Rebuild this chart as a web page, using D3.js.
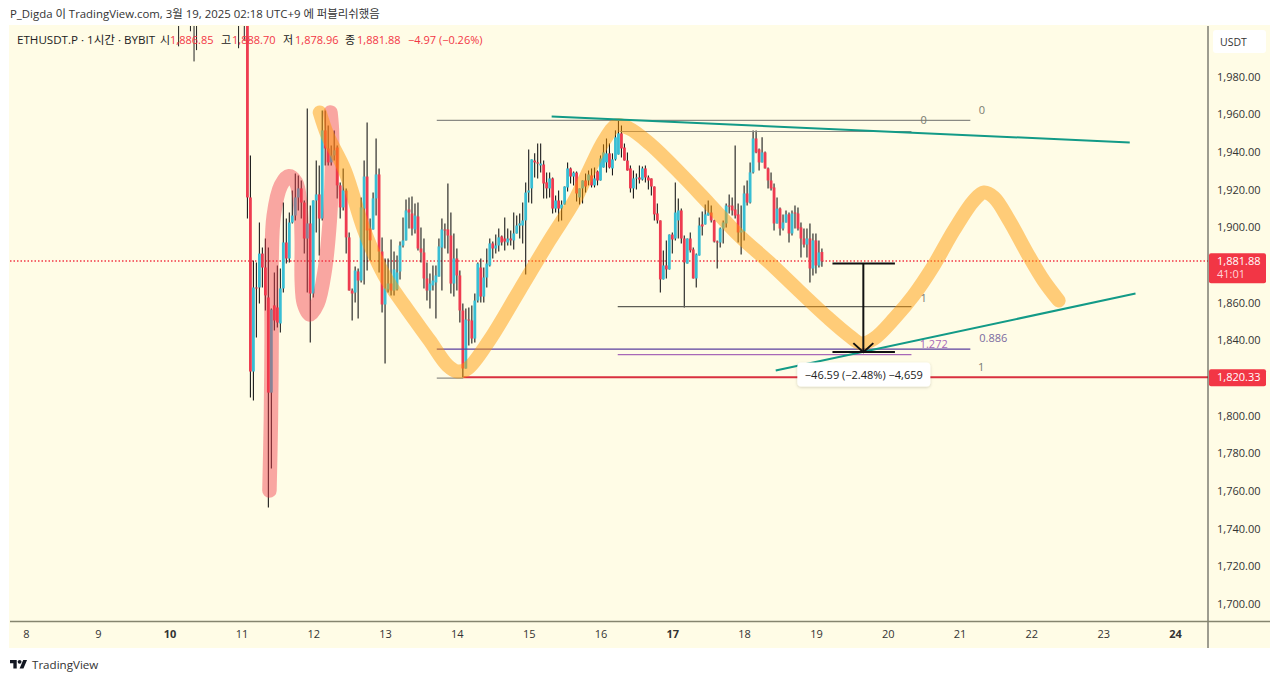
<!DOCTYPE html>
<html>
<head>
<meta charset="utf-8">
<script src="https://cdn.jsdelivr.net/npm/d3@7"></script>
<style>
  html, body { margin: 0; padding: 0; background: #fff; }
  svg { display: block; }
  text { font-family: "Open Sans", "Noto Sans CJK KR", sans-serif; }
</style>
</head>
<body>
<svg id="chart" width="1280" height="681"></svg>
<script>
// hourly ETHUSDT.P candles, first one is 11th 02:00
const firstDay = 11 + 2 / 24;
const opens = [
  2070,1915.8,1823.4,1868,1868,1886,1878.6,1862.7,1812.2,1858.5,
  1857.4,1848.9,1867.5,1891.9,1883.4,1902.5,1906.2,1915.8,1920.6,1913.1,
  1894,1902,1864.8,1914.2,1917.4,1904.6,1951.4,1941.8,1934.4,1938.1,
  1942.3,1922.2,1910.5,1919.5,1894.6,1866.4,1865.3,1876.5,1871.7,1909.9,
  1926.9,1899.3,1898.8,1915.3,1928,1887.1,1859,1867,1870.1,1866.4,
  1867,1876.5,1890.3,1893,1909.4,1907.3,1898.8,1905.7,1888.7,1886.6,
  1872.8,1866.4,1869.1,1870.7,1873.8,1889.2,1898.8,1898.8,1895.6,1870.1,
  1883.4,1874.4,1855.8,1825,1851,1850.5,1840.9,1861.1,1878.6,1863.2,
  1873.3,1879.7,1891.4,1888.7,1890.3,1895.1,1894,1891.9,1894,1893,
  1896.7,1900.9,1900.9,1903.6,1918.4,1920.6,1935.4,1934.4,1932.8,1933.3,
  1923.8,1920.6,1925.9,1909.9,1914.2,1909.9,1912,1921.1,1931.2,1926.9,
  1929,1915.8,1920.6,1924.8,1924.8,1927.5,1922.2,1929.6,1924.8,1931.7,
  1934.4,1939.2,1931.2,1936,1938.6,1949.8,1942.3,1935.4,1931.2,1920.6,
  1925.9,1926.4,1925.3,1931.2,1926.4,1925.9,1921.6,1907.3,1903.6,1872.3,
  1879.7,1877.6,1896.1,1894,1903.6,1908.9,1894,1880.7,1894,1888.2,
  1872.8,1885,1901.5,1901.5,1906.2,1907.8,1903.6,1892.4,1891.9,1899.3,
  1902,1911.5,1911.5,1909.4,1906.8,1897.2,1897.7,1917.9,1913.1,1929.1,
  1947.1,1941.3,1934.4,1939.7,1931.2,1924.8,1921.1,1902,1909.9,1899.3,
  1902.5,1906.8,1896.7,1907.8,1907.3,1899.9,1894,1890.8,1894,1878.1,
  1893,1879.7,1886.85
];
const highs = [
  2085,1938.1,1882.3,1881.3,1902.5,1889.2,1894,1889.2,1856.9,1876,
  1879.7,1878.1,1913.1,1904.6,1907.8,1919.5,1928.5,1927.5,1924.8,1914.2,
  1963,1911.5,1914.2,1935.4,1932.8,1962,1962,1954,1943.4,1951.4,
  1943.4,1923.8,1931.2,1920.6,1897.2,1867.5,1879.1,1878.1,1915.8,1935.4,
  1955.6,1904.6,1918.4,1947.1,1931.2,1894.6,1883.4,1883.4,1893.5,1887.1,
  1885,1892.4,1905.2,1914.7,1915.8,1916.3,1912.6,1913.1,1899.9,1894,
  1881.3,1875.4,1879.7,1879.7,1894,1904.6,1902,1923.2,1907.8,1896.7,
  1888.7,1877,1859.5,1856.9,1857.4,1858.5,1864.8,1881.3,1883.4,1878.6,
  1888.7,1894,1892.4,1896.1,1899.3,1895.6,1905.2,1899.3,1898.3,1907.8,
  1906.2,1907.3,1913.1,1923.8,1941.3,1936,1939.2,1944.5,1944.5,1935.4,
  1929,1929,1926.4,1916.9,1919.5,1914.2,1921.6,1934.4,1931.7,1929.6,
  1929.6,1920.6,1924.8,1928.5,1930.1,1931.2,1931.7,1930.1,1938.1,1944,
  1947.1,1944.5,1939.2,1951.4,1956.7,1954,1944.5,1939.7,1932.8,1930.1,
  1928.5,1932.8,1932.2,1932.8,1927.5,1925.9,1921.6,1912.6,1903.6,1887.7,
  1893,1896.1,1897.2,1923.8,1915.3,1909.9,1895.6,1894,1897.2,1889.2,
  1886,1905.2,1908.4,1912.1,1914.2,1911.5,1904,1892.9,1899.9,1903.6,
  1912.6,1917.4,1915.8,1943.4,1912.6,1911.5,1922.2,1924.8,1934.4,1951.4,
  1951.4,1941.8,1947.7,1940.2,1931.7,1929,1923.2,1915.8,1910.5,1906.8,
  1908.9,1907.8,1908.9,1911.5,1910.5,1902.5,1899.3,1899.3,1902,1896.7,
  1896.7,1893,1888.7
];
const lows = [
  1904.6,1809.6,1808,1841.4,1859.5,1868,1855.8,1751.2,1771.9,1845.2,
  1846.8,1844.1,1865.3,1880.7,1881.3,1902,1903.6,1908.9,1904.6,1886,
  1865.3,1838.8,1862.7,1897.2,1885,1903.6,1932.8,1932.8,1932.8,1935.4,
  1915.3,1904.6,1908.9,1886,1866.4,1850.5,1860,1851.5,1870.6,1869.6,
  1877,1882.3,1898.8,1906.2,1876,1854.7,1827.6,1865.3,1863.8,1863.8,
  1866.4,1872.3,1889.2,1893,1899.3,1895.6,1896.7,1887.7,1881.3,1867.5,
  1861.1,1856.9,1866.4,1851.5,1873.8,1866.4,1888.7,1886,1864.8,1863.2,
  1866.4,1849.4,1820.2,1825,1837.2,1838.3,1838.8,1860,1860,1860,
  1868,1879.1,1883.4,1886,1887.1,1890.3,1887.7,1890.3,1890.3,1888.2,
  1896.7,1894,1891.4,1874.9,1913.1,1912.6,1926.4,1925.9,1929,1915.3,
  1915.3,1915.8,1907.3,1907.8,1903,1903.6,1912,1919,1923.2,1922.2,
  1913.7,1912,1912.6,1918.4,1922.2,1921.1,1921.1,1922.2,1924.8,1931.7,
  1929,1931.2,1927.5,1935.4,1938.6,1937,1935.4,1930.1,1918.4,1915.3,
  1920,1923.2,1924.8,1923.8,1920,1916.9,1903.6,1902,1865.3,1872.3,
  1872.8,1877.6,1886,1893,1894,1891.4,1857.4,1880.7,1886.6,1872.8,
  1868,1885,1895.6,1901.5,1906.2,1902.5,1891.9,1878.1,1889.2,1891.4,
  1899.9,1907.3,1906.2,1904.6,1891.9,1885.5,1893,1911.5,1912.6,1928.5,
  1939.2,1930.1,1934.4,1931.2,1920.6,1919.5,1898.3,1902,1895.6,1898.3,
  1902.5,1891.9,1895.6,1899.3,1898.3,1883.9,1889.2,1883.9,1870.6,1874.4,
  1875.4,1878.6,1878.96
];
const closes = [
  1915.8,1823.4,1868,1867.5,1886,1878.6,1863.8,1812.2,1856.3,1850.5,
  1849.4,1867.5,1891.9,1883.4,1902.5,1906.2,1915.8,1920.6,1913.1,1894,
  1902,1864.8,1914.2,1917.4,1904.6,1951.4,1941.8,1934.4,1938.1,1940.8,
  1922.2,1910.5,1919.5,1894.6,1866.4,1864.8,1877,1871.7,1910.5,1926.9,
  1898.3,1893,1915.3,1928,1887.1,1859,1867.5,1870.1,1866.4,1877.6,
  1876,1890.3,1893,1908.9,1907.8,1899.3,1906.2,1888.7,1886.6,1872.8,
  1866.4,1870.1,1871.7,1874.4,1889.8,1898.8,1898.3,1895.6,1870.1,1883.4,
  1874.4,1855.8,1825,1851,1850.5,1840.9,1861.1,1880.7,1863.2,1873.3,
  1880.7,1891.4,1888.7,1890.3,1894.6,1891.9,1892.4,1894,1893,1896.7,
  1900.9,1902,1903.6,1918.4,1919.5,1936,1934.4,1933.8,1933.8,1923.2,
  1920.6,1925.9,1909.9,1914.2,1909.9,1912,1921.6,1931.2,1926.9,1929,
  1917.9,1920.6,1924.8,1921.6,1928,1922.2,1925.9,1924.8,1936.5,1939.7,
  1939.2,1931.7,1936,1947.7,1949.8,1941.8,1935.4,1930.1,1920.6,1925.9,
  1926.4,1925.3,1931.2,1926.4,1924.8,1921.6,1906.8,1903.6,1872.3,1879.7,
  1877.6,1896.1,1893.5,1907.8,1908.9,1894,1881.3,1894,1887.7,1872.8,
  1885.5,1900.9,1900.4,1906.8,1907.8,1903.6,1892.4,1891.9,1899.3,1902.5,
  1911.5,1911,1908.9,1906.2,1897.2,1898.3,1917.9,1913.1,1929.1,1947.1,
  1939.7,1934.4,1939.7,1931.2,1924.8,1920.6,1902,1909.9,1899.3,1902.5,
  1906.8,1896.7,1907.3,1907.3,1899.3,1894,1890.8,1894,1878.1,1893,
  1879.7,1886.6,1881.88
];

// older candles sit above the pane, only their lower wicks show
const earlyDays = [10.125, 10.29, 10.34, 10.375, 10.96, 11.04];
const earlyLows = [1996, 2004, 1988, 1994, 1995, 1999];

const dayTicks = [8, 9, 10, 11, 12, 13, 14, 15, 16, 17, 18, 19, 20, 21, 22, 23, 24];
const boldDays = [10, 17, 24];
const priceTicks = [1980, 1960, 1940, 1920, 1900, 1860, 1840, 1800, 1780, 1760, 1740, 1720, 1700];

const lastPrice = 1881.88;
const supportPrice = 1820.33;

// [day, price] of the hand drawn highlighter strokes
const orangePath = [[12.09,1960.9],[12.2,1948.7],[12.44,1930.1],[12.71,1898.3],[12.99,1874.4],[13.27,1858.4],
  [13.62,1839.9],[13.87,1826.6],[14.01,1823.4],[14.15,1825],[14.45,1839.9],[14.87,1866.4],[15.29,1893],
  [15.64,1914.2],[15.84,1930.1],[16.05,1946],[16.22,1954],[16.4,1952.4],[16.68,1944.5],[17.1,1929],
  [17.51,1912.6],[17.93,1895.6],[18.35,1881.3],[18.76,1866.4],[19.18,1851.5],[19.46,1842.5],[19.63,1838.3],
  [19.81,1840.9],[20.09,1851.5],[20.36,1863.8],[20.64,1879.7],[20.92,1898.3],[21.2,1914.2],[21.34,1918.4],
  [21.48,1915.8],[21.69,1903.6],[21.96,1885],[22.17,1871.7],[22.38,1861.1]];
const pinkPath = [[11.39,1760.2],[11.41,1797.4],[11.42,1839.9],[11.42,1882.3],[11.45,1906.2],[11.55,1922.2],
  [11.66,1927],[11.76,1923.8],[11.82,1911.5],[11.84,1893],[11.84,1871.7],[11.87,1859.5],[11.95,1853.7],
  [12.06,1859.5],[12.16,1877],[12.23,1903.6],[12.26,1930.1],[12.26,1951.4],[12.24,1960.9]];

// trend lines
const trendLines = [
  [[15.32, 1958.8], [23.37, 1945]],
  [[18.44, 1823.9], [23.45, 1864.8]]
];

// fib levels: from day, to day, price, colour
const fibLevels = [
  { from: 13.72, to: 21.15, price: 1956.7, color: "#8a8a84", w: 1.2 },
  { from: 13.72, to: 21.15, price: 1835.3, color: "#5b3f9e", w: 1.2 },
  { from: 13.72, to: 14.09, price: 1819.9, color: "#8a8a84", w: 1.2 },
  { from: 16.27, to: 20.33, price: 1950.8, color: "#8a8a84", w: 1.2 },
  { from: 16.24, to: 20.33, price: 1857.9, color: "#5d5d56", w: 1.2 },
  { from: 16.24, to: 20.33, price: 1832.4, color: "#a868b8", w: 1.2 }
];
const fibLabels = [
  { day: 21.31, price: 1961.8, text: "0", color: "#787b70" },
  { day: 21.47, price: 1840.8, text: "0.886", color: "#7a6a9e" },
  { day: 21.3, price: 1825, text: "1", color: "#787b70" },
  { day: 20.5, price: 1956.2, text: "0", color: "#787b70" },
  { day: 20.5, price: 1862.1, text: "1", color: "#787b70" },
  { day: 20.64, price: 1837.5, text: "1.272", color: "#a868b8" }
];

// measure tool
const measureDays = [19.23, 19.66, 20.1];
const measureFrom = 1880.7;
const measureTo = 1833.7;

const legendParts = [
  { x: 17, text: "ETHUSDT.P · 1시간 · BYBIT", color: "#222", size: 11.6 },
  { x: 160, text: "시", color: "#222", size: 11 },
  { x: 170, text: "1,886.85", color: "#f23645", size: 11 },
  { x: 221, text: "고", color: "#222", size: 11 },
  { x: 232, text: "1,888.70", color: "#f23645", size: 11 },
  { x: 283, text: "저", color: "#222", size: 11 },
  { x: 295, text: "1,878.96", color: "#f23645", size: 11 },
  { x: 345, text: "종", color: "#222", size: 11 },
  { x: 357, text: "1,881.88", color: "#f23645", size: 11 },
  { x: 408, text: "−4.97 (−0.26%)", color: "#f23645", size: 11 }
];

const paneColor = "#fffce6";
const upColor = "#38bed4";
const downColor = "#ee3b50";

const svg = d3.select("#chart");

const x = d3.scaleLinear().domain([8, 24]).range([26, 1175]);
const y = d3.scaleLinear().domain([1700, 1980]).range([604, 76.5]);

svg.append("text")
  .attr("x", 10).attr("y", 18)
  .attr("font-size", 11.4).attr("fill", "#333")
  .text("P_Digda 이 TradingView.com, 3월 19, 2025 02:18 UTC+9 에 퍼블리쉬했음");

// pane + axis background
svg.append("rect")
  .attr("x", 9).attr("y", 25).attr("width", 1261).attr("height", 623)
  .attr("fill", paneColor);

svg.append("clipPath").attr("id", "pane")
  .append("rect").attr("x", 10).attr("y", 26).attr("width", 1198).attr("height", 595);

const plot = svg.append("g").attr("clip-path", "url(#pane)");

const candles = closes.map((c, i) => ({
  t: firstDay + i / 24, o: opens[i], h: highs[i], l: lows[i], c: c
}));

// early wicks
plot.append("g").selectAll("line")
  .data(earlyDays)
  .join("line")
  .attr("x1", (d) => x(d)).attr("x2", (d) => x(d))
  .attr("y1", 0)
  .attr("y2", (d, i) => y(earlyLows[i]))
  .attr("stroke", "#222");

// last price line goes under the candles
plot.append("line")
  .attr("x1", 10).attr("x2", 1208)
  .attr("y1", Math.round(y(lastPrice))).attr("y2", Math.round(y(lastPrice)))
  .attr("stroke", "#f23645").attr("stroke-width", 1.3).attr("stroke-dasharray", "1.5 2");

plot.append("g").selectAll("line")
  .data(candles)
  .join("line")
  .attr("x1", (d) => x(d.t)).attr("x2", (d) => x(d.t))
  .attr("y1", (d) => y(d.h)).attr("y2", (d) => y(d.l))
  .attr("stroke", "#1a1a1a").attr("stroke-width", 1.1);

plot.append("g").selectAll("rect")
  .data(candles)
  .join("rect")
  .attr("x", (d) => x(d.t) - 1.4)
  .attr("width", 2.8)
  .attr("y", (d) => y(Math.max(d.o, d.c)))
  .attr("height", (d) => Math.max(1, Math.abs(y(d.o) - y(d.c))))
  .attr("fill", (d) => (d.c >= d.o ? upColor : downColor));

// fib lines
plot.append("g").selectAll("line")
  .data(fibLevels)
  .join("line")
  .attr("x1", (d) => x(d.from)).attr("x2", (d) => x(d.to))
  .attr("y1", (d) => y(d.price)).attr("y2", (d) => y(d.price))
  .attr("stroke", (d) => d.color).attr("stroke-width", (d) => d.w);

// support line
plot.append("line")
  .attr("x1", x(14.09)).attr("x2", 1208)
  .attr("y1", y(supportPrice)).attr("y2", y(supportPrice))
  .attr("stroke", "#d9303f").attr("stroke-width", 2);

const line = d3.line()
  .x((d) => x(d[0]))
  .y((d) => y(d[1]))
  .curve(d3.curveCatmullRom.alpha(0.5));

plot.append("path").attr("d", line(pinkPath))
  .attr("fill", "none").attr("stroke", "#f23645").attr("stroke-opacity", 0.43)
  .attr("stroke-width", 14.5).attr("stroke-linecap", "round").attr("stroke-linejoin", "round");

plot.append("path").attr("d", line(orangePath))
  .attr("fill", "none").attr("stroke", "#ff9800").attr("stroke-opacity", 0.48)
  .attr("stroke-width", 14).attr("stroke-linecap", "round").attr("stroke-linejoin", "round");

plot.append("g").selectAll("line")
  .data(trendLines)
  .join("line")
  .attr("x1", (d) => x(d[0][0])).attr("y1", (d) => y(d[0][1]))
  .attr("x2", (d) => x(d[1][0])).attr("y2", (d) => y(d[1][1]))
  .attr("stroke", "#129a87").attr("stroke-width", 2);

plot.append("g").selectAll("text")
  .data(fibLabels)
  .join("text")
  .attr("x", (d) => x(d.day)).attr("y", (d) => y(d.price))
  .attr("text-anchor", "middle").attr("dominant-baseline", "middle")
  .attr("font-size", 11).attr("fill", (d) => d.color)
  .text((d) => d.text);

// measure: two bars, stem and arrow head
const measure = plot.append("g").attr("stroke", "#111").attr("stroke-width", 2).attr("fill", "none");
[measureFrom, measureTo].forEach((p) => {
  measure.append("line")
    .attr("x1", x(measureDays[0])).attr("x2", x(measureDays[2]))
    .attr("y1", y(p)).attr("y2", y(p));
});
measure.append("line")
  .attr("x1", x(measureDays[1])).attr("x2", x(measureDays[1]))
  .attr("y1", y(measureFrom)).attr("y2", y(measureTo));
measure.append("path")
  .attr("d", d3.line()([
    [x(measureDays[1]) - 10, y(measureTo) - 9],
    [x(measureDays[1]), y(measureTo)],
    [x(measureDays[1]) + 10, y(measureTo) - 9]
  ]));

const defs = svg.append("defs");
defs.append("filter").attr("id", "soft")
  .attr("x", "-10%").attr("y", "-20%").attr("width", "120%").attr("height", "150%")
  .append("feDropShadow")
  .attr("dx", 0).attr("dy", 1).attr("stdDeviation", 1.5).attr("flood-opacity", 0.18);

plot.append("rect")
  .attr("x", x(measureDays[1]) - 66).attr("y", y(measureTo) + 10.5)
  .attr("width", 133).attr("height", 24).attr("rx", 4)
  .attr("fill", "#fff").attr("filter", "url(#soft)");
plot.append("text")
  .attr("x", x(measureDays[1]) + 0.5).attr("y", y(measureTo) + 26.5)
  .attr("text-anchor", "middle").attr("font-size", 11).attr("fill", "#222")
  .text("−46.59 (−2.48%) −4,659");

// axes
const yAxis = d3.axisRight(y).tickValues(priceTicks).tickSize(0).tickPadding(0)
  .tickFormat(d3.format(",.2f"));
const yG = svg.append("g").attr("transform", "translate(1217,0)").call(yAxis);
yG.select(".domain").remove();
yG.selectAll("text").attr("font-size", 11).attr("fill", "#333").style("font-family", null);

const xAxis = d3.axisBottom(x).tickValues(dayTicks).tickSize(0).tickPadding(0)
  .tickFormat(d3.format("d"));
const xG = svg.append("g").attr("transform", "translate(0,630)").call(xAxis);
xG.select(".domain").remove();
xG.selectAll("text")
  .attr("font-size", 11).attr("fill", "#333").style("font-family", null)
  .attr("font-weight", (d) => (boldDays.includes(d) ? 700 : 400));

// pane borders
svg.append("line").attr("x1", 1208).attr("x2", 1208).attr("y1", 26).attr("y2", 648)
  .attr("stroke", "#3c3c38").attr("stroke-width", 1);
svg.append("line").attr("x1", 10).attr("x2", 1270).attr("y1", 621.5).attr("y2", 621.5)
  .attr("stroke", "#85856f").attr("stroke-width", 1.4);

// legend row over the candles
svg.append("g").selectAll("text")
  .data(legendParts)
  .join("text")
  .attr("x", (d) => d.x).attr("y", 44)
  .attr("font-size", (d) => d.size).attr("fill", (d) => d.color)
  .text((d) => d.text);

// currency button
svg.append("rect")
  .attr("x", 1213).attr("y", 30).attr("width", 53).attr("height", 23).attr("rx", 3)
  .attr("fill", "#fff");
svg.append("text")
  .attr("x", 1220).attr("y", 46)
  .attr("font-size", 10.5).attr("fill", "#333")
  .text("USDT");

// price tags
svg.append("rect")
  .attr("x", 1209).attr("y", y(lastPrice) - 8).attr("width", 57).attr("height", 30).attr("rx", 2)
  .attr("fill", "#f23645");
svg.append("text")
  .attr("x", 1217).attr("y", y(lastPrice) + 4)
  .attr("font-size", 11).attr("fill", "#fff")
  .text(d3.format(",.2f")(lastPrice));
svg.append("text")
  .attr("x", 1217).attr("y", y(lastPrice) + 17)
  .attr("font-size", 11).attr("fill", "#ffd5d9")
  .text("41:01");
svg.append("rect")
  .attr("x", 1209).attr("y", y(supportPrice) - 8).attr("width", 57).attr("height", 17).attr("rx", 2)
  .attr("fill", "#f23645");
svg.append("text")
  .attr("x", 1217).attr("y", y(supportPrice) + 4)
  .attr("font-size", 11).attr("fill", "#fff")
  .text(d3.format(",.2f")(supportPrice));

// TradingView logo
const logo = svg.append("g").attr("transform", "translate(10,658) scale(0.48)").attr("fill", "#131722");
logo.append("path").attr("d", "M14 22H7V11H0V4h14v18zM28 22h-8l7.5-18h8L28 22z");
logo.append("circle").attr("cx", 20).attr("cy", 8).attr("r", 4);
svg.append("text")
  .attr("x", 32).attr("y", 668.5)
  .attr("font-size", 11.6).attr("fill", "#333")
  .text("TradingView");
</script>
</body>
</html>
